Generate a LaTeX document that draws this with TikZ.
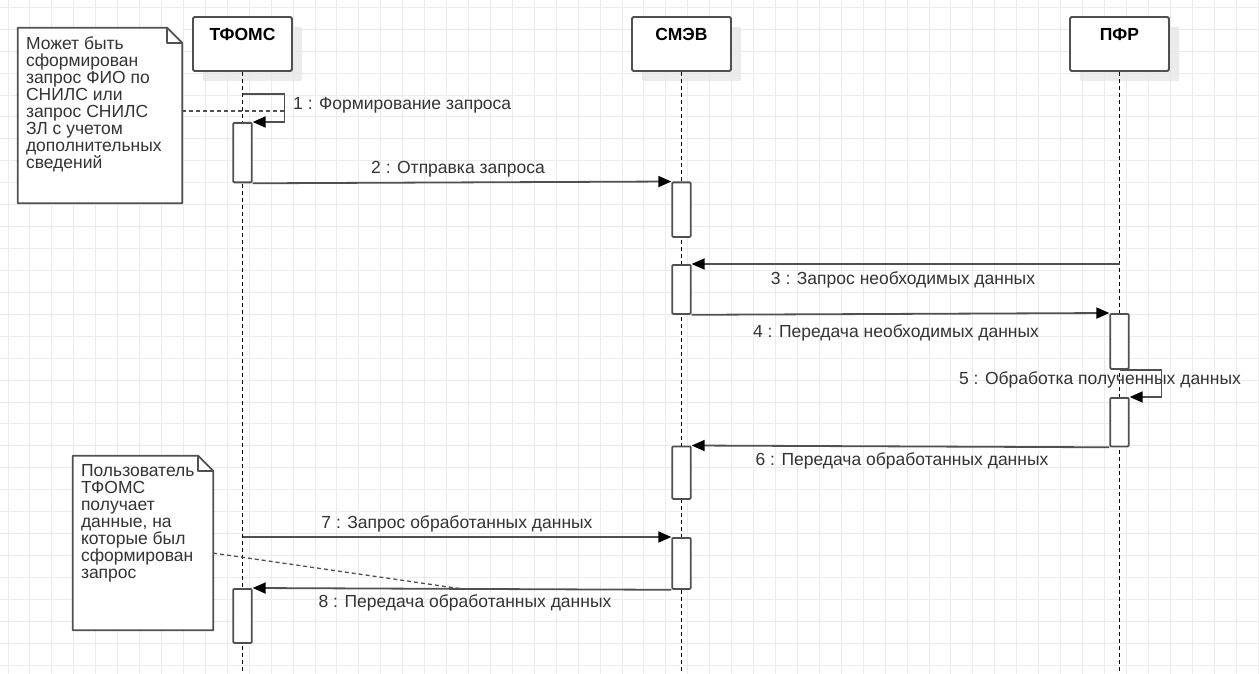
\documentclass[tikz,border=0pt]{standalone}
\usepackage{fontspec}
\setmainfont{Liberation Sans}
\usetikzlibrary{shapes,arrows,arrows.meta,positioning,calc,shadows}

\definecolor{umlline}{HTML}{505050}
\definecolor{umltext}{HTML}{333333}
\definecolor{gridcol}{HTML}{EBEBEB}
\definecolor{shadowcol}{HTML}{E6E6E6}

\begin{document}
\begin{tikzpicture}[x=1pt, y=-1pt, font=\fontsize{17.5}{17}\selectfont, text=umltext]
\tikzstyle{head} = [rectangle, draw=umlline, line width=1.8pt, fill=white, rounded corners=1.5pt, minimum width=99pt, minimum height=54pt, inner ysep=5.5pt, text height=18.5pt, text depth=24.5pt, font=\fontsize{17.5}{17}\selectfont\bfseries, text=black, drop shadow={shadow xshift=10pt, shadow yshift=-10pt, fill=shadowcol, opacity=0.8}]
\tikzstyle{bar} = [rectangle, draw=umlline, line width=1.8pt, fill=white, rounded corners=1pt, minimum width=18.5pt, inner sep=0pt, anchor=north]
\tikzstyle{lifeline} = [draw=black, line width=1.3pt, dash pattern=on 4pt off 3pt]
\tikzstyle{msg} = [draw=umlline, line width=1.8pt, -{Triangle[length=13pt,width=11pt,color=black]}]
\tikzstyle{msglabel} = [anchor=base, inner sep=0pt]
\tikzstyle{note} = [rectangle, fill=white, inner sep=0pt]
\tikzstyle{noteline} = [draw=umlline, line width=1.8pt, line join=round]
\tikzstyle{notetext} = [anchor=north west, align=left, inner sep=0pt]
\tikzstyle{notelink} = [draw=umlline, line width=1.3pt, dash pattern=on 4pt off 3pt]
\tikzstyle{bggrid} = [draw=gridcol, line width=1pt]

\useasboundingbox (0,0) rectangle (1259,674);
\fill[white] (0,0) rectangle (1259,674);
\foreach \i in {0,...,57}
  \draw[bggrid] ({8+21.93*\i},0) -- ({8+21.93*\i},674);
\foreach \j in {0,...,30}
  \draw[bggrid] (0,{7.3+21.93*\j}) -- (1259,{7.3+21.93*\j});

\coordinate (bottom) at (0,674);

\node[head] (tfoms) at (242.5,44) {ТФОМС};
\node[head] (smev) at (681.5,44) {СМЭВ};
\node[head] (pfr) at (1119.5,44) {ПФР};

\draw[lifeline] (tfoms.south) -- (tfoms.south |- bottom);
\draw[lifeline] (smev.south) -- (smev.south |- bottom);
\draw[lifeline] (pfr.south) -- (pfr.south |- bottom);

% notes
\node[note, minimum width=164pt, minimum height=175pt] (note1) at (100,115.5) {};
\draw[noteline] (note1.south west) -- (note1.north west) -- ([xshift=-15pt]note1.north east) -- ([yshift=-15pt]note1.north east) -- (note1.south east) -- cycle;
\draw[noteline] ([xshift=-15pt]note1.north east) |- ([yshift=-15pt]note1.north east);
\node[notetext] (note1text) at ([shift={(8pt,-9pt)}]note1.north west) {Может быть\\сформирован\\запрос ФИО по\\СНИЛС или\\запрос СНИЛС\\ЗЛ с учетом\\дополнительных\\сведений};

\node[note, minimum width=140pt, minimum height=174pt] (note2) at (143,543) {};
\draw[noteline] (note2.south west) -- (note2.north west) -- ([xshift=-15pt]note2.north east) -- ([yshift=-15pt]note2.north east) -- (note2.south east) -- cycle;
\draw[noteline] ([xshift=-15pt]note2.north east) |- ([yshift=-15pt]note2.north east);
\node[notetext] (note2text) at ([shift={(8pt,-8pt)}]note2.north west) {Пользователь\\ТФОМС\\получает\\данные, на\\которые был\\сформирован\\запрос};

% activations
\node[bar, minimum height=59.5pt] (tf1) at (tfoms |- 0,122) {};
\node[bar, minimum height=54.5pt] (sm1) at (smev |- 0,181.5) {};
\node[bar, minimum height=49pt] (sm2) at (smev |- 0,264) {};
\node[bar, minimum height=55pt] (pf1) at (pfr |- 0,313) {};
\node[bar, minimum height=48.5pt] (pf2) at (pfr |- 0,397) {};
\node[bar, minimum height=52.5pt] (sm3) at (smev |- 0,445.5) {};
\node[bar, minimum height=51pt] (sm4) at (smev |- 0,537) {};
\node[bar, minimum height=54pt] (tf2) at (tfoms |- 0,588) {};

\coordinate (m1s) at (tfoms |- 0,94);
\coordinate (m1side) at (285,111);
\coordinate (m3s) at (pfr |- 0,264);
\coordinate (m7s) at (tfoms |- 0,537);

% messages
\draw[msg] (m1s) -- ++(42,0) |- (tf1.north east);
\draw[msg] (tf1.south east) -- (sm1.north west);
\draw[msg] (m3s) -- (sm2.north east);
\draw[msg] (sm2.south east) -- (pf1.north west);
\draw[msg] (pf1.south) -- ++(42,0) |- (pf2.north east);
\draw[msg] (pf2.south west) -- (sm3.north east);
\draw[msg] (m7s) -- (sm4.north west);
\draw[msg] (sm4.south west) -- coordinate[pos=0.5] (m8mid) (tf2.north east);

\draw[notelink] (note1.east |- m1side) -- (m1side);
\draw[notelink] (note2) -- (m8mid);

\node[msglabel, anchor=base west] (m1lbl) at (293,110) {1 : Формирование запроса};
\node[msglabel] (m2lbl) at (458,174) {2 : Отправка запроса};
\node[msglabel] (m3lbl) at (903,284) {3 : Запрос необходимых данных};
\node[msglabel] (m4lbl) at (896,337) {4 : Передача необходимых данных};
\node[msglabel] (m5lbl) at (1100,384) {5 : Обработка полученных данных};
\node[msglabel] (m6lbl) at (902,465) {6 : Передача обработанных данных};
\node[msglabel] (m7lbl) at (457,528) {7 : Запрос обработанных данных};
\node[msglabel] (m8lbl) at (465,607) {8 : Передача обработанных данных};
\end{tikzpicture}
\end{document}
